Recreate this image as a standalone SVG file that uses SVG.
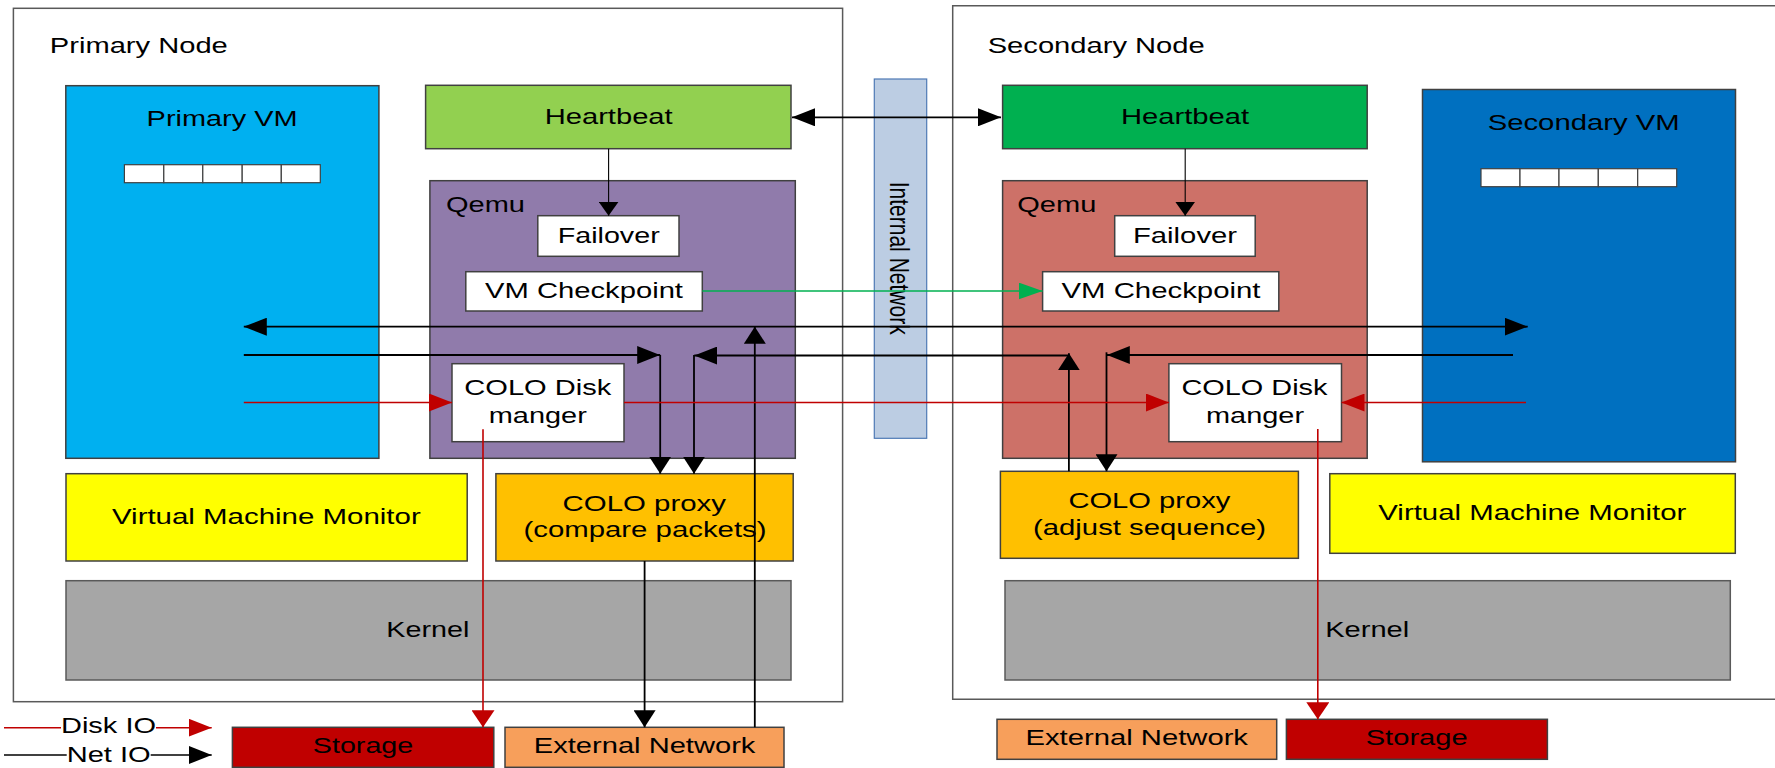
<svg xmlns="http://www.w3.org/2000/svg" width="1775" height="768" viewBox="0 0 1775 768">
<style>
.t{font-family:"Liberation Sans",Arial,Helvetica,sans-serif;font-size:22px;fill:#000}
.box{stroke:#404040;stroke-width:1.5}
.frame{fill:none;stroke:#595959;stroke-width:1.5}
.cell{fill:#fff;stroke:#404040;stroke-width:1.2}
.net{stroke:#000;stroke-width:1.8;fill:none}
.thin{stroke:#000;stroke-width:1.1;fill:none}
.disk{stroke:#C00000;stroke-width:1.6;fill:none}
.ckpt{stroke:#00B050;stroke-width:1.6;fill:none}
</style>
<defs>
<marker id="aH" markerUnits="userSpaceOnUse" markerWidth="23" markerHeight="18" refX="23" refY="9" orient="auto-start-reverse"><path d="M0,0 L23,9 L0,18 z" fill="#000"/></marker>
<marker id="aV" markerUnits="userSpaceOnUse" markerWidth="17" markerHeight="22" refX="17" refY="11" orient="auto-start-reverse"><path d="M0,0 L17,11 L0,22 z" fill="#000"/></marker>
<marker id="aS" markerUnits="userSpaceOnUse" markerWidth="14" markerHeight="20" refX="14" refY="10" orient="auto"><path d="M0,0 L14,10 L0,20 z" fill="#000"/></marker>
<marker id="rH" markerUnits="userSpaceOnUse" markerWidth="23" markerHeight="18" refX="23" refY="9" orient="auto"><path d="M0,0 L23,9 L0,18 z" fill="#C00000"/></marker>
<marker id="rV" markerUnits="userSpaceOnUse" markerWidth="17" markerHeight="23" refX="17" refY="11.5" orient="auto"><path d="M0,0 L17,11.5 L0,23 z" fill="#C00000"/></marker>
<marker id="gH" markerUnits="userSpaceOnUse" markerWidth="24" markerHeight="17" refX="24" refY="8.5" orient="auto"><path d="M0,0 L24,8.5 L0,17 z" fill="#00B050"/></marker>
</defs>
<rect width="1775" height="768" fill="#fff"/>

<g id="primary-node">
<rect class="frame" x="13.4" y="8.3" width="829.2" height="693.4"/>
<text class="t" x="49.8" y="53.3" textLength="178" lengthAdjust="spacingAndGlyphs">Primary Node</text>
</g>
<g id="secondary-node">
<path class="frame" d="M1780,5.7 H952.7 V699.3 H1780"/>
<text class="t" x="987.7" y="53.3" textLength="217" lengthAdjust="spacingAndGlyphs">Secondary Node</text>
</g>

<g id="primary-vm">
<rect class="box" x="65.8" y="85.7" width="313.1" height="372.6" fill="#00B0F0"/>
<text class="t" x="146.6" y="126" textLength="151" lengthAdjust="spacingAndGlyphs">Primary VM</text>
<rect class="cell" x="124.4" y="164.7" width="39.4" height="18"/>
<rect class="cell" x="163.8" y="164.7" width="39" height="18"/>
<rect class="cell" x="202.8" y="164.7" width="39.4" height="18"/>
<rect class="cell" x="242.2" y="164.7" width="39.1" height="18"/>
<rect class="cell" x="281.3" y="164.7" width="39" height="18"/>
</g>

<g id="heartbeat-primary">
<rect class="box" x="425.6" y="85.3" width="365.4" height="63.4" fill="#92D050"/>
<text class="t" x="544.7" y="124.3" textLength="128" lengthAdjust="spacingAndGlyphs">Heartbeat</text>
</g>
<g id="qemu-primary">
<rect class="box" x="429.9" y="180.7" width="365.4" height="277.6" fill="#907BAB"/>
<text class="t" x="446" y="212.3" textLength="79" lengthAdjust="spacingAndGlyphs">Qemu</text>
</g>
<g id="failover-primary">
<rect class="box" x="537.8" y="215.7" width="141.2" height="40.6" fill="#fff"/>
<text class="t" x="557.7" y="242.7" textLength="102" lengthAdjust="spacingAndGlyphs">Failover</text>
</g>
<g id="checkpoint-primary">
<rect class="box" x="465.8" y="271.7" width="236.5" height="39.3" fill="#fff"/>
<text class="t" x="485" y="297.7" textLength="198" lengthAdjust="spacingAndGlyphs">VM Checkpoint</text>
</g>
<g id="disk-primary">
<rect class="box" x="452" y="363.7" width="172" height="78" fill="#fff"/>
<text class="t" x="464.3" y="395" textLength="147" lengthAdjust="spacingAndGlyphs">COLO Disk</text>
<text class="t" x="488.8" y="422.7" textLength="98" lengthAdjust="spacingAndGlyphs">manger</text>
</g>
<g id="vmm-primary">
<rect class="box" x="66" y="473.7" width="401.2" height="87.3" fill="#FFFF00"/>
<text class="t" x="112" y="524" textLength="308.7" lengthAdjust="spacingAndGlyphs">Virtual Machine Monitor</text>
</g>
<g id="proxy-primary">
<rect class="box" x="495.9" y="473.7" width="297.3" height="87.3" fill="#FFC000"/>
<text class="t" x="562.5" y="511" textLength="163.5" lengthAdjust="spacingAndGlyphs">COLO proxy</text>
<text class="t" x="523.5" y="537.3" textLength="243" lengthAdjust="spacingAndGlyphs">(compare packets)</text>
</g>
<g id="kernel-primary">
<rect x="66" y="580.7" width="725" height="99.3" fill="#A6A6A6" stroke="#595959" stroke-width="1.5"/>
<text class="t" x="386.3" y="636.7" textLength="83" lengthAdjust="spacingAndGlyphs">Kernel</text>
</g>
<g id="storage-primary">
<rect class="box" x="232.4" y="727.3" width="261.4" height="40" fill="#C00000"/>
<text class="t" x="312.8" y="753.3" textLength="100.5" lengthAdjust="spacingAndGlyphs">Storage</text>
</g>
<g id="extnet-primary">
<rect class="box" x="505" y="727.3" width="279" height="40" fill="#F79F5B"/>
<text class="t" x="533.8" y="753.3" textLength="221.6" lengthAdjust="spacingAndGlyphs">External Network</text>
</g>

<g id="internal-network">
<rect x="874.3" y="79" width="52.4" height="359.3" fill="#BCCDE3" stroke="#4E79B5" stroke-width="1.2"/>
<text class="t" style="font-size:21px" transform="translate(890,181.7) rotate(90) scale(1,1.32)" x="0" y="0" textLength="153" lengthAdjust="spacingAndGlyphs">Internal Network</text>
</g>

<g id="heartbeat-secondary">
<rect class="box" x="1002.6" y="85.3" width="364.6" height="63.4" fill="#00B050"/>
<text class="t" x="1121" y="124.3" textLength="128" lengthAdjust="spacingAndGlyphs">Heartbeat</text>
</g>
<g id="qemu-secondary">
<rect class="box" x="1002.6" y="180.7" width="364.6" height="277.6" fill="#CD7168"/>
<text class="t" x="1017.3" y="212.3" textLength="79" lengthAdjust="spacingAndGlyphs">Qemu</text>
</g>
<g id="failover-secondary">
<rect class="box" x="1114.7" y="215.7" width="140.5" height="40.6" fill="#fff"/>
<text class="t" x="1133" y="242.7" textLength="104" lengthAdjust="spacingAndGlyphs">Failover</text>
</g>
<g id="checkpoint-secondary">
<rect class="box" x="1042.6" y="271.7" width="236.2" height="39.3" fill="#fff"/>
<text class="t" x="1061.5" y="297.7" textLength="199" lengthAdjust="spacingAndGlyphs">VM Checkpoint</text>
</g>
<g id="disk-secondary">
<rect class="box" x="1168.9" y="363.7" width="172.6" height="78" fill="#fff"/>
<text class="t" x="1181.5" y="395" textLength="146" lengthAdjust="spacingAndGlyphs">COLO Disk</text>
<text class="t" x="1206" y="422.7" textLength="98" lengthAdjust="spacingAndGlyphs">manger</text>
</g>
<g id="secondary-vm">
<rect class="box" x="1422.5" y="89.5" width="313" height="372.3" fill="#0070C0"/>
<text class="t" x="1487.7" y="130" textLength="192" lengthAdjust="spacingAndGlyphs">Secondary VM</text>
<rect class="cell" x="1481" y="168.7" width="39" height="18"/>
<rect class="cell" x="1520" y="168.7" width="39" height="18"/>
<rect class="cell" x="1559" y="168.7" width="39.3" height="18"/>
<rect class="cell" x="1598.3" y="168.7" width="39.4" height="18"/>
<rect class="cell" x="1637.7" y="168.7" width="39" height="18"/>
</g>
<g id="proxy-secondary">
<rect class="box" x="1000.4" y="471.3" width="298" height="87" fill="#FFC000"/>
<text class="t" x="1068.4" y="508.3" textLength="162" lengthAdjust="spacingAndGlyphs">COLO proxy</text>
<text class="t" x="1033" y="535" textLength="233" lengthAdjust="spacingAndGlyphs">(adjust sequence)</text>
</g>
<g id="vmm-secondary">
<rect class="box" x="1329.8" y="473.7" width="405.5" height="79.6" fill="#FFFF00"/>
<text class="t" x="1378.3" y="520" textLength="308" lengthAdjust="spacingAndGlyphs">Virtual Machine Monitor</text>
</g>
<g id="kernel-secondary">
<rect x="1005" y="580.7" width="725.3" height="99.3" fill="#A6A6A6" stroke="#595959" stroke-width="1.5"/>
<text class="t" x="1325.2" y="636.7" textLength="84" lengthAdjust="spacingAndGlyphs">Kernel</text>
</g>
<g id="extnet-secondary">
<rect class="box" x="997" y="719.3" width="279.7" height="40" fill="#F79F5B"/>
<text class="t" x="1025.5" y="745" textLength="222.5" lengthAdjust="spacingAndGlyphs">External Network</text>
</g>
<g id="storage-secondary">
<rect class="box" x="1286.4" y="719.3" width="261" height="40" fill="#C00000"/>
<text class="t" x="1365.7" y="745" textLength="102" lengthAdjust="spacingAndGlyphs">Storage</text>
</g>

<g id="connectors">
<line class="net" x1="792" y1="117.3" x2="1001" y2="117.3" marker-start="url(#aH)" marker-end="url(#aH)"/>
<line class="thin" x1="608.6" y1="148.7" x2="608.6" y2="215.7" marker-end="url(#aS)"/>
<line class="thin" x1="1185.2" y1="148.7" x2="1185.2" y2="215.7" marker-end="url(#aS)"/>
<line class="ckpt" x1="702.3" y1="291" x2="1042.6" y2="291" marker-end="url(#gH)"/>
<line class="net" x1="243.8" y1="326.7" x2="1527.7" y2="326.7" marker-start="url(#aH)" marker-end="url(#aH)"/>
<line class="net" x1="754.8" y1="727.3" x2="754.8" y2="326.7" marker-end="url(#aV)"/>
<line class="net" x1="243.8" y1="355" x2="660.2" y2="355" marker-end="url(#aH)"/>
<line class="net" x1="660.2" y1="355" x2="660.2" y2="473.7" marker-end="url(#aV)"/>
<line class="net" x1="1068.9" y1="355.5" x2="694.3" y2="355.5" marker-end="url(#aH)"/>
<line class="net" x1="694" y1="355" x2="694" y2="473.7" marker-end="url(#aV)"/>
<line class="net" x1="1068.9" y1="471.3" x2="1068.9" y2="353.3" marker-end="url(#aV)"/>
<line class="net" x1="1513" y1="355" x2="1106.8" y2="355" marker-end="url(#aH)"/>
<line class="net" x1="1106.5" y1="352.3" x2="1106.5" y2="471.3" marker-end="url(#aV)"/>
<line class="net" x1="644.6" y1="561" x2="644.6" y2="727.3" marker-end="url(#aV)"/>
<line class="disk" x1="243.8" y1="402.5" x2="452" y2="402.5" marker-end="url(#rH)"/>
<line class="disk" x1="624" y1="402.5" x2="1168.9" y2="402.5" marker-end="url(#rH)"/>
<line class="disk" x1="1526" y1="402.5" x2="1341.5" y2="402.5" marker-end="url(#rH)"/>
<line class="disk" x1="483" y1="429.3" x2="483" y2="727.3" marker-end="url(#rV)"/>
<line class="disk" x1="1317.8" y1="429" x2="1317.8" y2="719.3" marker-end="url(#rV)"/>
</g>

<g id="legend">
<line class="disk" x1="4" y1="727.7" x2="61" y2="727.7"/>
<text class="t" x="61" y="733.3" textLength="95" lengthAdjust="spacingAndGlyphs">Disk IO</text>
<line class="disk" x1="156" y1="727.7" x2="211.7" y2="727.7" marker-end="url(#rH)"/>
<line class="net" x1="4" y1="755" x2="66.7" y2="755" style="stroke-width:1.5"/>
<text class="t" x="66.7" y="761.7" textLength="84" lengthAdjust="spacingAndGlyphs">Net IO</text>
<line class="net" x1="150.7" y1="755" x2="211.7" y2="755" style="stroke-width:1.5" marker-end="url(#aH)"/>
</g>
</svg>
